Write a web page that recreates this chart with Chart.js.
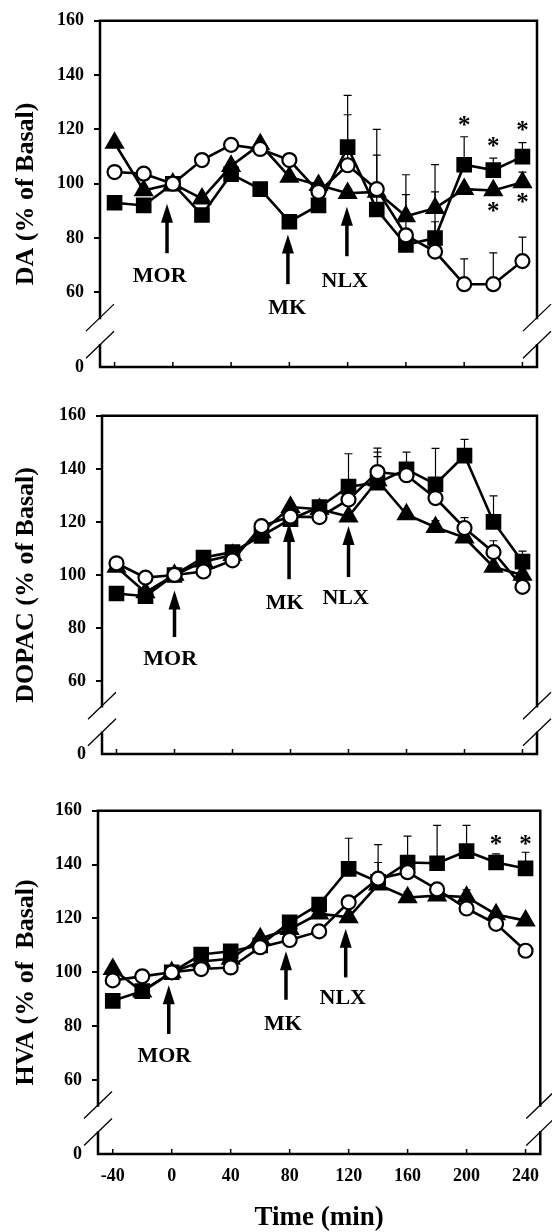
<!DOCTYPE html>
<html>
<head>
<meta charset="utf-8">
<title>DA / DOPAC / HVA</title>
<script src="https://cdn.jsdelivr.net/npm/chart.js@4.4.1/dist/chart.umd.min.js"></script>
<style>
  html, body { margin: 0; padding: 0; background: #fff; }
  #wrap { position: relative; width: 552px; height: 1232px; overflow: hidden; }
  #wrap canvas { position: absolute; left: 0; }
</style>
</head>
<body>
<div id="wrap">
  <canvas id="chart-da" width="552" height="395" style="top:0px"></canvas>
  <canvas id="chart-dopac" width="552" height="395" style="top:395px"></canvas>
  <canvas id="chart-hva" width="552" height="442" style="top:790px"></canvas>
</div>
<script>
// ---------------------------------------------------------------------------
// data
// ---------------------------------------------------------------------------
const TIME = [-40, -20, 0, 20, 40, 60, 80, 100, 120, 140, 160, 180, 200, 220, 240];
const X_TICKS = [-40, 0, 40, 80, 120, 160, 200, 240];
const Y_TICKS = [60, 80, 100, 120, 140, 160];
const Y_ZERO = 32.5;          // value drawn as "0" below the axis break
const BREAK_TOP = 50.5;       // axis line stops here...
const BREAK_BOTTOM = 40.5;    // ...and starts again here
const EVENT_NAMES = ['MOR', 'MK', 'NLX'];

// DA
const DA_SQUARE   = [93, 92, 100, 88.5, 103.5, 98, 86, 92, 113.5, 90.5, 77.5, 80, 107, 105, 110];
const DA_TRIANGLE = [115, 97.5, 100, 94.5, 106.5, 114.5, 102.5, 99.5, 96.5, 97, 88, 91, 98, 97.5, 100.5];
const DA_CIRCLE   = [104.3, 103.7, 100, 108.7, 114.3, 112.8, 108.7, 97, 106.8, 98, 81, 75, 63, 63, 71.5];
const DA_SQUARE_ERR   = [null, null, null, null, null, null, null, null, 19, 20, null, 17, 10.3, 4.4, 5.1];
const DA_TRIANGLE_ERR = [null, null, null, null, null, null, null, null, null, null, 15.3, 16, null, null, 3.8];
const DA_CIRCLE_ERR   = [null, null, null, null, null, null, null, null, 18.6, 22, 15, 11, 9.3, 11.5, 8.8];
const DA_EVENT_TIME = [-4, 79, 119.5];
const DA_EVENT_TIP  = [92.6, 81.3, 91.5];
const DA_EVENT_TAIL = [74.4, 63, 73.3];
const DA_LABEL_TIME = [-9, 78.5, 118];
const DA_LABEL_Y    = [66, 54, 64.2];
const DA_STAR_TIME  = [200, 220, 240, 220, 240];
const DA_STAR_VALUE = [121.7, 114, 120, 90, 93.3];

// DOPAC
const DOPAC_SQUARE   = [93, 92, 100, 106.6, 108.6, 114.7, 121, 125.6, 133.3, 134.8, 139.8, 134.2, 145, 120, 105];
const DOPAC_TRIANGLE = [103, 93.4, 100, 105, 107.5, 116, 125.6, 124.8, 122, 135.6, 122.8, 118, 114.1, 103, 100];
const DOPAC_CIRCLE   = [104.4, 99, 100, 101.3, 105.5, 118.4, 122, 121.8, 128.4, 138.8, 137.6, 129, 117.7, 108.6, 95.5];
const DOPAC_SQUARE_ERR   = [null, null, null, null, null, null, null, null, 12.4, 13, 6.5, 13.5, 6.1, 9.8, 4];
const DOPAC_TRIANGLE_ERR = [null, null, null, null, null, null, null, null, null, 9, null, 2.5, null, null, null];
const DOPAC_CIRCLE_ERR   = [null, null, null, null, null, null, null, null, null, 7.5, null, null, 3.9, 4.3, null];
const DOPAC_EVENT_TIME = [0, 79, 120];
const DOPAC_EVENT_TIP  = [94.1, 119.6, 118.5];
const DOPAC_EVENT_TAIL = [76.6, 98.4, 99.2];
const DOPAC_LABEL_TIME = [-3, 76, 118];
const DOPAC_LABEL_Y    = [68.2, 89.3, 91.1];

// HVA
const HVA_SQUARE   = [89.4, 93, 100, 106.6, 107.8, 110, 118.6, 125.2, 138.4, 133.6, 140.8, 140.5, 145, 140.8, 138.6];
const HVA_TRIANGLE = [101.2, 92.8, 100, 104, 105, 112.6, 116, 121.8, 120.4, 132.6, 127.8, 128.5, 128, 121.5, 119.2];
const HVA_CIRCLE   = [97, 98.5, 100, 101.2, 101.8, 109.3, 112, 115.2, 126, 134.8, 137.2, 130.8, 123.7, 118, 108];
const HVA_SQUARE_ERR   = [null, null, null, null, null, null, null, null, 11.4, 13.8, 9.8, 14.1, 9.6, 3.2, 6];
const HVA_TRIANGLE_ERR = [null, null, null, null, null, null, null, null, null, null, 2, null, 2.6, null, null];
const HVA_CIRCLE_ERR   = [null, null, null, null, null, null, null, null, null, 6, null, null, null, null, null];
const HVA_EVENT_TIME = [-2, 77.5, 118];
const HVA_EVENT_TIP  = [95.2, 107.8, 116.2];
const HVA_EVENT_TAIL = [77.1, 89.8, 98.1];
const HVA_LABEL_TIME = [-5, 75.5, 116];
const HVA_LABEL_Y    = [68.9, 80.7, 90.5];
const HVA_STAR_TIME  = [220, 240];
const HVA_STAR_VALUE = [147.8, 147.8];

// ---------------------------------------------------------------------------
// look
// ---------------------------------------------------------------------------
const SERIF = '"Liberation Serif", "Times New Roman", Times, serif';
Chart.defaults.font.family = SERIF;
Chart.defaults.color = '#000';

function series(values, errors, style, radius, fill) {
    return {
        data: TIME.map((t, i) => ({ x: t, y: values[i] })),
        errors: errors,
        borderColor: '#000',
        borderWidth: 2.6,
        tension: 0,
        pointStyle: style,
        pointRadius: radius,
        pointBackgroundColor: fill,
        pointBorderColor: '#000',
        pointBorderWidth: 2.2
    };
}

// one-sided (upper) SEM bars, under the markers
const errorBars = {
    id: 'errorBars',
    beforeDatasetsDraw(chart) {
        const { ctx, scales: { x, y } } = chart;
        ctx.save();
        ctx.strokeStyle = '#000';
        ctx.lineWidth = 1.2;
        chart.data.datasets.forEach(ds => {
            (ds.errors || []).forEach((err, i) => {
                if (err == null) return;
                const p = ds.data[i];
                const px = x.getPixelForValue(p.x);
                const py = y.getPixelForValue(p.y);
                const pt = y.getPixelForValue(p.y + err);
                ctx.beginPath();
                ctx.moveTo(px, py);
                ctx.lineTo(px, pt);
                ctx.moveTo(px - 4, pt);
                ctx.lineTo(px + 4, pt);
                ctx.stroke();
            });
        });
        ctx.restore();
    }
};

// box with broken y axis on both sides, inward x ticks
const frame = {
    id: 'frame',
    afterDraw(chart) {
        const { ctx, chartArea: a, scales: { x, y } } = chart;
        const hi = y.getPixelForValue(BREAK_TOP);
        const lo = y.getPixelForValue(BREAK_BOTTOM);
        ctx.save();
        ctx.strokeStyle = '#000';
        ctx.lineCap = 'square';
        ctx.lineWidth = 2.5;
        ctx.beginPath();
        ctx.moveTo(a.left, hi); ctx.lineTo(a.left, a.top);
        ctx.lineTo(a.right, a.top); ctx.lineTo(a.right, hi);
        ctx.moveTo(a.left, lo); ctx.lineTo(a.left, a.bottom);
        ctx.lineTo(a.right, a.bottom); ctx.lineTo(a.right, lo);
        ctx.stroke();

        ctx.lineCap = 'butt';
        ctx.lineWidth = 1.5;
        ctx.beginPath();
        X_TICKS.forEach(t => {
            const px = x.getPixelForValue(t);
            ctx.moveTo(px, a.bottom);
            ctx.lineTo(px, a.bottom - 5);
        });
        ctx.stroke();

        ctx.lineWidth = 1.3;
        ctx.beginPath();
        [a.left, a.right].forEach(px => [hi, lo].forEach(py => {
            ctx.moveTo(px - 14, py + 13);
            ctx.lineTo(px + 14, py - 14);
        }));
        ctx.stroke();
        ctx.restore();
    }
};

function annotations(p) {
    return {
        id: 'annotations',
        afterDatasetsDraw(chart) {
            const { ctx, scales: { x, y } } = chart;
            ctx.save();
            ctx.fillStyle = '#000';
            ctx.strokeStyle = '#000';
            EVENT_NAMES.forEach((name, i) => {
                const px = x.getPixelForValue(p.eventTime[i]);
                const tip = y.getPixelForValue(p.eventTip[i]);
                const tail = y.getPixelForValue(p.eventTail[i]);
                ctx.lineWidth = 3.5;
                ctx.beginPath();
                ctx.moveTo(px, tip + 14);
                ctx.lineTo(px, tail);
                ctx.stroke();
                ctx.beginPath();
                ctx.moveTo(px, tip);
                ctx.lineTo(px - 6, tip + 19);
                ctx.lineTo(px + 6, tip + 19);
                ctx.closePath();
                ctx.fill();

                ctx.font = 'bold 22px ' + SERIF;
                ctx.textAlign = 'center';
                ctx.textBaseline = 'middle';
                ctx.fillText(name, x.getPixelForValue(p.labelTime[i]), y.getPixelForValue(p.labelY[i]));
            });
            ctx.font = 'bold 25px ' + SERIF;
            ctx.textAlign = 'center';
            ctx.textBaseline = 'middle';
            (p.starTime || []).forEach((t, i) => {
                ctx.fillText('*', x.getPixelForValue(t), y.getPixelForValue(p.starValue[i]) + 2);
            });
            ctx.restore();
        }
    };
}

function renderPanel(id, p) {
    const canvas = document.getElementById(id);
    const H = canvas.height;
    const a = p.area;
    return new Chart(canvas.getContext('2d'), {
        type: 'line',
        data: {
            datasets: [
                series(p.circle, p.circleErr, 'circle', 7, '#fff'),
                series(p.triangle, p.triangleErr, 'triangle', 9.5, '#000'),
                series(p.square, p.squareErr, 'rect', 9.5, '#000')
            ]
        },
        options: {
            responsive: false,
            animation: false,
            devicePixelRatio: 1,
            layout: { padding: { top: a.top, right: 552 - a.right, bottom: 0, left: 0 } },
            plugins: { legend: { display: false }, tooltip: { enabled: false } },
            scales: {
                x: {
                    type: 'linear',
                    min: -50,
                    max: 250,
                    afterBuildTicks: s => { s.ticks = X_TICKS.map(v => ({ value: v })); },
                    afterFit: s => { s.height = H - a.bottom; },
                    grid: { display: false, drawTicks: false },
                    border: { display: false },
                    ticks: {
                        display: !!p.xTitle,
                        autoSkip: false,
                        maxRotation: 0,
                        padding: 12,
                        font: { size: 18, weight: 'bold' },
                        color: '#000'
                    },
                    title: {
                        display: !!p.xTitle,
                        text: p.xTitle || '',
                        color: '#000',
                        font: { size: 27, weight: 'bold', lineHeight: 1 },
                        padding: { top: 0, bottom: 0 }
                    }
                },
                y: {
                    type: 'linear',
                    min: Y_ZERO,
                    max: 160,
                    afterBuildTicks: s => { s.ticks = [Y_ZERO].concat(Y_TICKS).map(v => ({ value: v })); },
                    afterFit: s => { s.width = a.left; },
                    grid: {
                        drawOnChartArea: false,
                        drawTicks: true,
                        tickLength: 6,
                        lineWidth: 2,
                        color: c => (c.tick && c.tick.value === Y_ZERO) ? 'rgba(0,0,0,0)' : '#000'
                    },
                    border: { display: false },
                    ticks: {
                        autoSkip: false,
                        padding: 10,
                        font: { size: 18, weight: 'bold' },
                        color: '#000',
                        callback: v => (v === Y_ZERO ? '0' : v)
                    },
                    title: {
                        display: true,
                        text: p.yTitle,
                        color: '#000',
                        font: { size: 26, weight: 'bold', lineHeight: 1.2 },
                        padding: { top: 11, bottom: 0 }
                    }
                }
            }
        },
        plugins: [errorBars, frame, annotations(p)]
    });
}

renderPanel('chart-da', {
    area: { left: 100, right: 537, top: 17, bottom: 367 },
    yTitle: 'DA (% of Basal)',
    square: DA_SQUARE, triangle: DA_TRIANGLE, circle: DA_CIRCLE,
    squareErr: DA_SQUARE_ERR, triangleErr: DA_TRIANGLE_ERR, circleErr: DA_CIRCLE_ERR,
    eventTime: DA_EVENT_TIME, eventTip: DA_EVENT_TIP, eventTail: DA_EVENT_TAIL,
    labelTime: DA_LABEL_TIME, labelY: DA_LABEL_Y,
    starTime: DA_STAR_TIME, starValue: DA_STAR_VALUE
});

renderPanel('chart-dopac', {
    area: { left: 102, right: 537, top: 9, bottom: 359 },
    yTitle: 'DOPAC (% of Basal)',
    square: DOPAC_SQUARE, triangle: DOPAC_TRIANGLE, circle: DOPAC_CIRCLE,
    squareErr: DOPAC_SQUARE_ERR, triangleErr: DOPAC_TRIANGLE_ERR, circleErr: DOPAC_CIRCLE_ERR,
    eventTime: DOPAC_EVENT_TIME, eventTip: DOPAC_EVENT_TIP, eventTail: DOPAC_EVENT_TAIL,
    labelTime: DOPAC_LABEL_TIME, labelY: DOPAC_LABEL_Y
});

renderPanel('chart-hva', {
    area: { left: 98, right: 545, top: 10, bottom: 364 },
    yTitle: 'HVA (% of  Basal)',
    xTitle: 'Time (min)',
    square: HVA_SQUARE, triangle: HVA_TRIANGLE, circle: HVA_CIRCLE,
    squareErr: HVA_SQUARE_ERR, triangleErr: HVA_TRIANGLE_ERR, circleErr: HVA_CIRCLE_ERR,
    eventTime: HVA_EVENT_TIME, eventTip: HVA_EVENT_TIP, eventTail: HVA_EVENT_TAIL,
    labelTime: HVA_LABEL_TIME, labelY: HVA_LABEL_Y,
    starTime: HVA_STAR_TIME, starValue: HVA_STAR_VALUE
});
</script>
</body>
</html>
